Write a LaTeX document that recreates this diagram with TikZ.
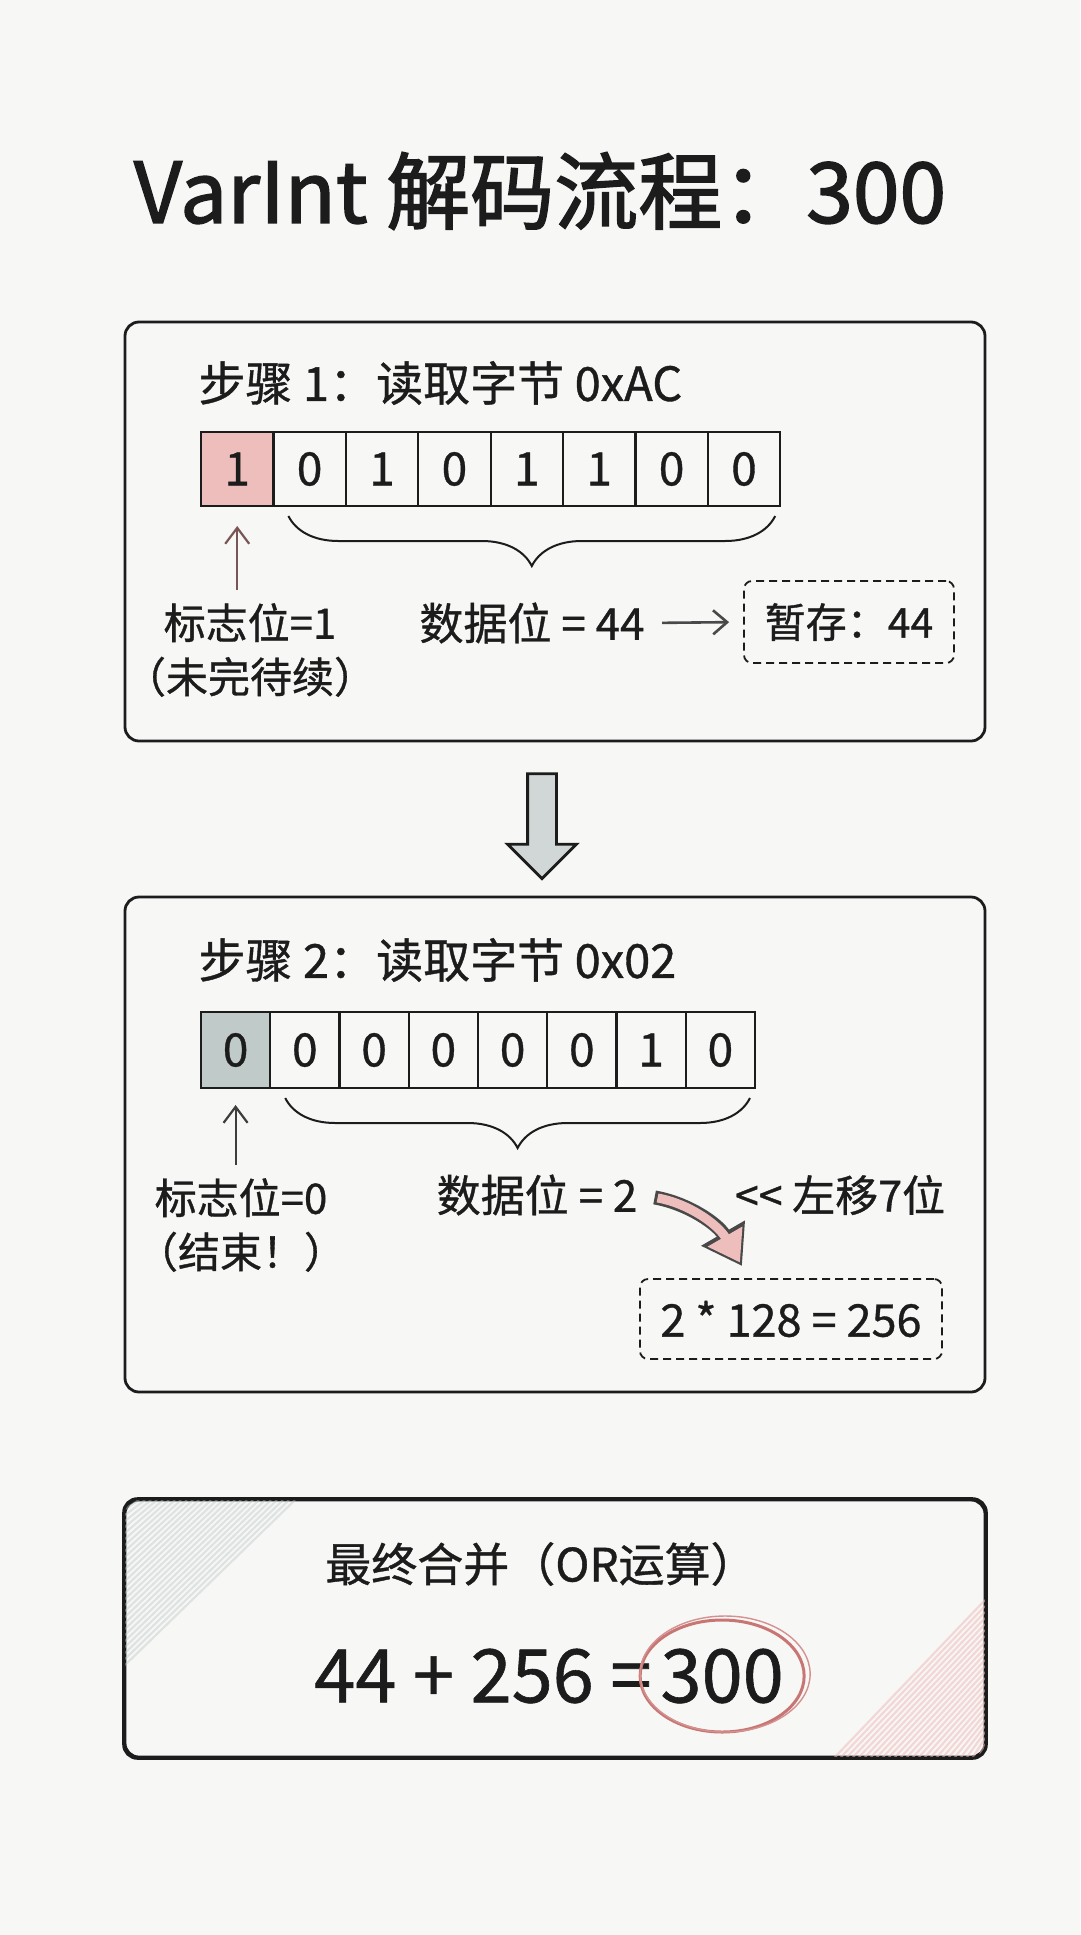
\documentclass[tikz,border=0pt]{standalone}
\usepackage{fontspec}
\setmainfont{Noto Sans CJK SC}[RawFeature={embolden=0.8}]
\newfontfamily\titlefont{Noto Sans CJK SC}[RawFeature={embolden=1.8}]
\usepackage{tikz}
\usetikzlibrary{arrows.meta, positioning, calc, decorations.pathreplacing, shapes.arrows}
\usepackage{xcolor}

\definecolor{paper}{RGB}{247,247,246}
\definecolor{ink}{RGB}{28,28,28}
\definecolor{flagred}{RGB}{238,190,188}
\definecolor{flaggray}{RGB}{192,202,200}
\definecolor{ringred}{RGB}{200,118,116}
\definecolor{rose}{RGB}{120,86,86}

\tikzset{
  panel/.style={draw=ink, line width=2.8pt, rounded corners=14pt, inner sep=0pt},
  bitcell/.style={draw=ink, line width=2.2pt, inner sep=0pt, outer sep=0pt,
    minimum height=74pt, font=\fontsize{46}{46}\selectfont},
  steptitle/.style={anchor=west, font=\fontsize{47}{50}\selectfont},
  txt/.style={align=center, font=\fontsize{42}{54}\selectfont},
  tempbox/.style={draw=ink, line width=1.8pt, dash pattern=on 8pt off 5pt,
    rounded corners=8pt, inner sep=0pt, font=\fontsize{41}{44}\selectfont},
  brace/.style={decorate, decoration={brace, mirror, amplitude=50pt, aspect=0.5},
    line width=2pt, draw=ink},
  uparrow/.style={-{Straight Barb[length=16pt, width=24pt]}, line width=2.2pt},
}

\begin{document}
\begin{tikzpicture}[x=1pt, y=1pt, text=ink]
    \useasboundingbox[fill=paper] (0,0) rectangle (1080,-1935);

    % Title
    \node[font=\titlefont\fontsize{84}{88}\selectfont] (title) at (540,-191) {VarInt 解码流程：300};

    % Step 1
    \node[panel, minimum width=860pt, minimum height=419pt] (step1) at (555,-531.5) {};
    \node[steptitle] (step1title) at (195,-383) {步骤 1：读取字节 0xAC};
    \node[bitcell, minimum width=72.4pt, fill=flagred] (a1) at (237.2,-469) {1};
    \foreach \b [count=\i from 2] in {0,1,0,1,1,0,0} {
        \pgfmathtruncatemacro\prev{\i-1}
        \node[bitcell, minimum width=72.4pt, right=0pt of a\prev] (a\i) {\b};
    }
    \draw[brace] ($(a2.south west)+(15,-10)$) -- ($(a8.south east)+(-5,-10)$);
    \node[txt] (flag1) at (250,-650) {标志位=1\\（未完待续）};
    \draw[uparrow, rose, shorten <=10pt, shorten >=20pt] (a1.south |- flag1.north) -- (a1.south);
    \node[txt, font=\fontsize{44}{46}\selectfont] (data1) at (532,-623) {数据位 = 44};
    \node[tempbox, minimum width=210pt, minimum height=82pt] (temp1) at (849,-622) {暂存：44};
    \draw[-{Straight Barb[length=14pt, width=24pt]}, line width=2.6pt, ink!80,
        shorten <=14pt, shorten >=14pt] (data1.east) -- (temp1.west);

    % Step 2
    \node[panel, minimum width=860pt, minimum height=495pt] (step2) at (555,-1144.5) {};
    \node[steptitle] (step2title) at (195,-960) {步骤 2：读取字节 0x02};
    \node[bitcell, minimum width=69.25pt, minimum height=76pt, fill=flaggray] (b1) at (235.6,-1050) {0};
    \foreach \b [count=\i from 2] in {0,0,0,0,0,1,0} {
        \pgfmathtruncatemacro\prev{\i-1}
        \node[bitcell, minimum width=69.25pt, minimum height=76pt, right=0pt of b\prev] (b\i) {\b};
    }
    \draw[brace] ($(b2.south west)+(15,-10)$) -- ($(b8.south east)+(-5,-10)$);
    \node[txt] (flag2) at (241,-1225) {标志位=0\\（结束！）};
    \draw[uparrow, ink!85, shorten <=10pt, shorten >=17pt] (b1.south |- flag2.north) -- (b1.south);
    \node[txt, font=\fontsize{44}{46}\selectfont] (data2) at (537,-1195) {数据位 = 2};
    \node[txt, font=\fontsize{43}{46}\selectfont] (shift) at (840,-1195) {<{}< 左移7位};
    \node[tempbox, minimum width=302pt, minimum height=80pt, font=\fontsize{45}{46}\selectfont]
        (result2) at (791,-1319) {2 * 128 = 256};
    \coordinate (shifttip) at (742,-1266);
    \draw[line width=14pt, ink!80, -{Triangle[length=38pt, width=48pt]}, shorten <=14pt]
        (data2.east) to[out=-10, in=120] (shifttip);
    \draw[line width=9pt, flagred, -{Triangle[length=30pt, width=38pt]}, shorten <=17pt, shorten >=4pt]
        (data2.east) to[out=-10, in=120] (shifttip);

    % Arrow between steps
    \node[single arrow, draw=ink, line width=2.8pt, fill=flaggray!75, shape border rotate=270,
        minimum height=105pt, inner sep=13pt, single arrow head extend=20pt]
        (next) at ($(step1.south)!0.5!(step2.north)+(-13,0)$) {};

    % Final merge
    \node[panel, minimum width=860pt, minimum height=257pt] (final) at (555,-1628.5) {};
    \begin{scope}
        \clip[rounded corners=14pt] (125,-1500) rectangle (985,-1757);
        \foreach \k in {0,6,...,170}
            \draw[flaggray, line width=2.2pt, opacity=0.45] (125,{-1665+\k}) -- ({295-\k},-1500);
        \foreach \k in {0,6,...,160}
            \draw[flagred, line width=2.2pt, opacity=0.55] ({835+\k},-1757) -- (985,{-1600-\k});
    \end{scope}
    \draw[panel] (final.north west) rectangle (final.south east);
    \node[font=\fontsize{46}{50}\selectfont] (mergetitle) at (541,-1564) {最终合并（OR运算）};
    \node[anchor=east, font=\fontsize{74}{76}\selectfont] (sum) at (655,-1676) {44 + 256 =};
    \node[right=2pt of sum, font=\fontsize{74}{76}\selectfont] (total) {300};
    \draw[ringred, line width=3pt] (total) ellipse [x radius=82, y radius=56];
    \draw[ringred!80, line width=1.4pt] ($(total)+(3,2)$) ellipse [x radius=85, y radius=58];
\end{tikzpicture}
\end{document}
